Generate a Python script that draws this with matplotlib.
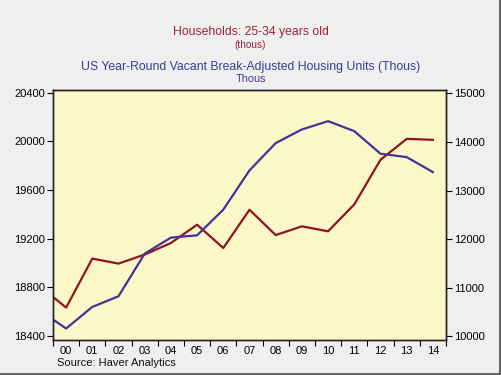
#!/usr/bin/env python3

"""
    households 25-34 vs. vacant housing units, Haver style dual axis chart
"""

import matplotlib
matplotlib.use('Agg')
import matplotlib.pyplot as plt
import matplotlib.ticker as ticker
from matplotlib.lines import Line2D

# annual data (1999 point only shows as the clipped start of the lines)
years = [1999, 2000, 2001, 2002, 2003, 2004, 2005, 2006, 2007,
         2008, 2009, 2010, 2011, 2012, 2013, 2014]
households = [18810, 18635, 19037, 18996, 19070, 19165, 19315, 19124, 19438,
              19230, 19302, 19261, 19482, 19848, 20020, 20012]
vacant = [10530, 10158, 10603, 10823, 11701, 12031, 12078, 12607, 13416,
          13978, 14259, 14430, 14224, 13759, 13689, 13380]
year_labels = ['00', '01', '02', '03', '04', '05', '06', '07',
               '08', '09', '10', '11', '12', '13', '14']

RED = '#8e1520'
BLUE = '#47309a'

plt.rcParams['font.family'] = ['Liberation Sans', 'DejaVu Sans']

fig = plt.figure(figsize=(5.01, 3.75), dpi=100, facecolor='#efefef')
ax = fig.add_axes([53 / 501, 1 - 339.5 / 375, 393 / 501, 250 / 375])
ax.set_facecolor('#fbf7c9')

ax.plot(years, households, color=RED, lw=1.6)
ax.set_xlim(1999.5, 2014.5)
ax.set_ylim(18373, 20425)
ax.set_yticks([18400, 18800, 19200, 19600, 20000, 20400])

# ticks between years, labels at year centres
ax.xaxis.set_major_locator(ticker.FixedLocator([y + 0.5 for y in range(1999, 2015)]))
ax.xaxis.set_major_formatter(ticker.NullFormatter())
ax.xaxis.set_minor_locator(ticker.FixedLocator(years[1:]))
ax.xaxis.set_minor_formatter(ticker.FixedFormatter(year_labels))
ax.tick_params(axis='x', which='major', length=4, width=0.8, direction='out')
ax.tick_params(axis='x', which='minor', length=0, labelsize=8, pad=5)
ax.tick_params(axis='y', length=4, width=0.8, labelsize=8, pad=1.5)

ax2 = ax.twinx()
ax2.plot(years, vacant, color=BLUE, lw=1.6)
ax2.set_ylim(9932, 15082)
ax2.set_yticks([10000, 11000, 12000, 13000, 14000, 15000])
ax2.tick_params(axis='y', length=4, width=0.8, labelsize=8, pad=1.5)

for a in (ax, ax2):
    for s in a.spines.values():
        s.set_linewidth(1.0)
        s.set_color('#222222')

# titles
fig.text(0.5, 1 - 32 / 375, 'Households: 25-34 years old', color='#a0203a',
         fontsize=8.85, ha='center', va='center')
fig.text(0.5, 1 - 45 / 375, '(thous)', color='#a0203a',
         fontsize=7.2, ha='center', va='center')
fig.text(0.5, 1 - 67 / 375, 'US Year-Round Vacant Break-Adjusted Housing Units (Thous)',
         color='#3c3a96', fontsize=8.85, ha='center', va='center')
fig.text(0.5, 1 - 79 / 375, 'Thous', color='#3c3a96',
         fontsize=7.8, ha='center', va='center')

fig.text(57 / 501, 1 - 363.5 / 375, 'Source: Haver Analytics', fontsize=8,
         ha='left', va='center', color='#111111')

# dark edge on the right and bottom of the picture
fig.add_artist(Line2D([0, 0.9985, 0.9985], [0.003, 0.003, 1], transform=fig.transFigure,
                      color='#555555', lw=1.3))

plt.savefig('out.png', dpi=100, facecolor=fig.get_facecolor())
